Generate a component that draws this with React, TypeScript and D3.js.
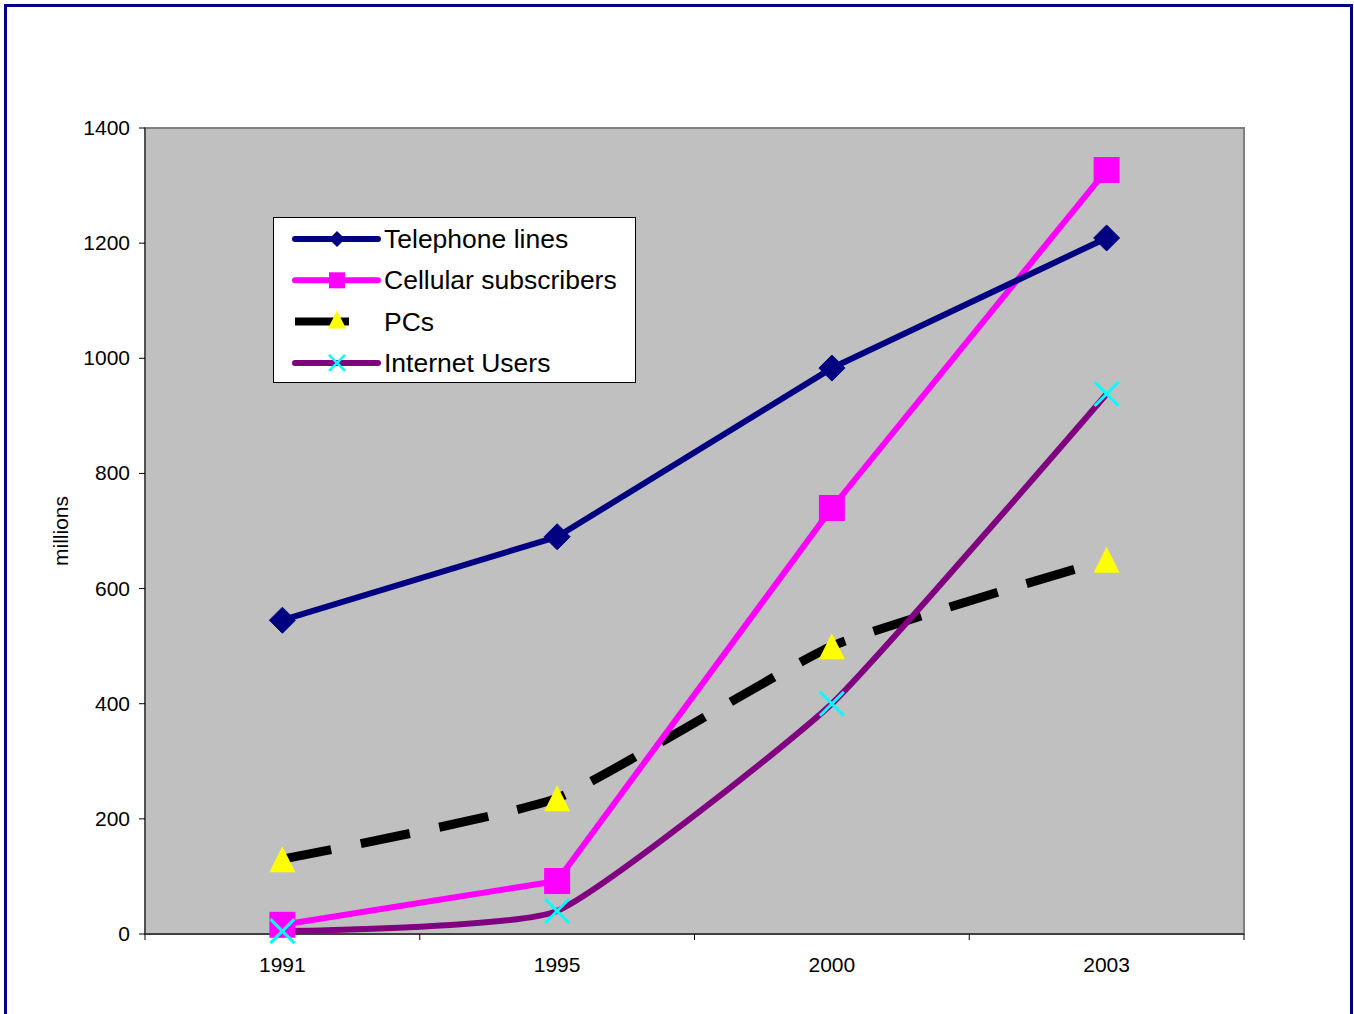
import React from "react";
import * as d3 from "d3";

const years = ["1991", "1995", "2000", "2003"];
const telephone = [545, 690, 983, 1209];
const cellular = [16, 92, 740, 1327];
const pcs = [130, 236, 500, 650];
const internet = [5, 40, 400, 938];
const yTicks = [0, 200, 400, 600, 800, 1000, 1200, 1400];

const W = 1354, H = 1014;
const L = 145, R = 1244, T = 128, B = 934;

export default function App() {
  const x = d3.scaleBand<string>().domain(years).range([L, R]);
  const y = d3.scaleLinear().domain([0, 1400]).range([B, T]);
  const cx = (i: number) => (x(years[i]) as number) + x.bandwidth() / 2;

  const straight = d3.line<number>().x((_, i) => cx(i)).y((d) => y(d));
  const smooth = d3.line<number>().x((_, i) => cx(i)).y((d) => y(d)).curve(d3.curveCardinal.tension(0.55));

  const diamond = (px: number, py: number, s: number) =>
    `M${px},${py - s}L${px + s},${py}L${px},${py + s}L${px - s},${py}Z`;
  const triangle = (px: number, py: number, s: number) =>
    `M${px},${py - s}L${px + s},${py + s}L${px - s},${py + s}Z`;
  const cross = (px: number, py: number, s: number) =>
    `M${px - s},${py - s}L${px + s},${py + s}M${px - s},${py + s}L${px + s},${py - s}`;

  const font = "Liberation Sans, Arial, sans-serif";
  const xTickPos = [...years.map((yr) => x(yr) as number), R];

  const legendItems = [
    { label: "Telephone lines", kind: "tel" },
    { label: "Cellular subscribers", kind: "cell" },
    { label: "PCs", kind: "pc" },
    { label: "Internet Users", kind: "net" },
  ];

  return (
    <svg width={W} height={H} style={{ position: "absolute", left: 0, top: 0, display: "block" }}>
      <rect x={0} y={0} width={W} height={H} fill="#fff" />
      <rect x={5.5} y={5.5} width={1346} height={1030} fill="none" stroke="#000080" strokeWidth={3} />
      {/* plot area */}
      <rect x={L} y={T} width={R - L} height={B - T} fill="#C0C0C0" stroke="#808080" strokeWidth={2} />
      <line x1={L} y1={T} x2={L} y2={B} stroke="#404040" strokeWidth={1.5} />
      <line x1={L} y1={B} x2={R} y2={B} stroke="#404040" strokeWidth={2} />
      {yTicks.map((t) => (
        <g key={t}>
          <line x1={L - 6} x2={L} y1={y(t)} y2={y(t)} stroke="#000" strokeWidth={1} />
          <text x={130} y={y(t) + 7} textAnchor="end" fontFamily={font} fontSize={21}>{t}</text>
        </g>
      ))}
      {xTickPos.map((p, i) => (
        <line key={i} x1={p} x2={p} y1={B} y2={B + 6} stroke="#000" strokeWidth={1} />
      ))}
      {years.map((yr, i) => (
        <text key={yr} x={cx(i)} y={972} textAnchor="middle" fontFamily={font} fontSize={21}>{yr}</text>
      ))}
      <text transform={`translate(68,${(T + B) / 2}) rotate(-90)`} textAnchor="middle" fontFamily={font} fontSize={21}>millions</text>

      {/* series */}
      <path d={smooth(pcs) as string} fill="none" stroke="#000" strokeWidth={9} strokeDasharray="50,30" />
      <path d={smooth(internet) as string} fill="none" stroke="#800080" strokeWidth={6} />
      <path d={straight(cellular) as string} fill="none" stroke="#FF00FF" strokeWidth={6} />
      <path d={straight(telephone) as string} fill="none" stroke="#000080" strokeWidth={6} strokeLinejoin="round" />

      {telephone.map((v, i) => (
        <path key={"t" + i} d={diamond(cx(i), y(v), 13)} fill="#000080" stroke="#000080" strokeWidth={1} strokeLinejoin="round" />
      ))}
      {cellular.map((v, i) => (
        <rect key={"c" + i} x={cx(i) - 13} y={y(v) - 13} width={26} height={26} fill="#FF00FF" />
      ))}
      {pcs.map((v, i) => (
        <path key={"p" + i} d={triangle(cx(i), y(v), 13)} fill="#FFFF00" />
      ))}
      {internet.map((v, i) => (
        <path key={"n" + i} d={cross(cx(i), y(v), 12)} fill="none" stroke="#00FFFF" strokeWidth={3} />
      ))}

      {/* legend */}
      <rect x={273.5} y={217.5} width={362} height={165} fill="#fff" stroke="#000" strokeWidth={1} />
      {legendItems.map((it, i) => {
        const ly = 239 + i * 41.3;
        const mx = 337;
        return (
          <g key={it.label}>
            {it.kind === "tel" && (
              <>
                <line x1={295} x2={378} y1={ly} y2={ly} stroke="#000080" strokeWidth={6} strokeLinecap="round" />
                <path d={diamond(mx, ly, 8)} fill="#000080" />
              </>
            )}
            {it.kind === "cell" && (
              <>
                <line x1={295} x2={378} y1={ly} y2={ly} stroke="#FF00FF" strokeWidth={6} strokeLinecap="round" />
                <rect x={mx - 8} y={ly - 8} width={16} height={16} fill="#FF00FF" />
              </>
            )}
            {it.kind === "pc" && (
              <>
                <line x1={295} x2={349} y1={ly} y2={ly} stroke="#000" strokeWidth={8} />
                <path d={triangle(mx, ly - 2, 9)} fill="#FFFF00" />
              </>
            )}
            {it.kind === "net" && (
              <>
                <line x1={295} x2={378} y1={ly} y2={ly} stroke="#800080" strokeWidth={6} strokeLinecap="round" />
                <path d={cross(mx, ly, 8)} fill="none" stroke="#00FFFF" strokeWidth={2.5} />
              </>
            )}
            <text x={384} y={ly + 9} fontFamily={font} fontSize={26.5}>{it.label}</text>
          </g>
        );
      })}
    </svg>
  );
}
